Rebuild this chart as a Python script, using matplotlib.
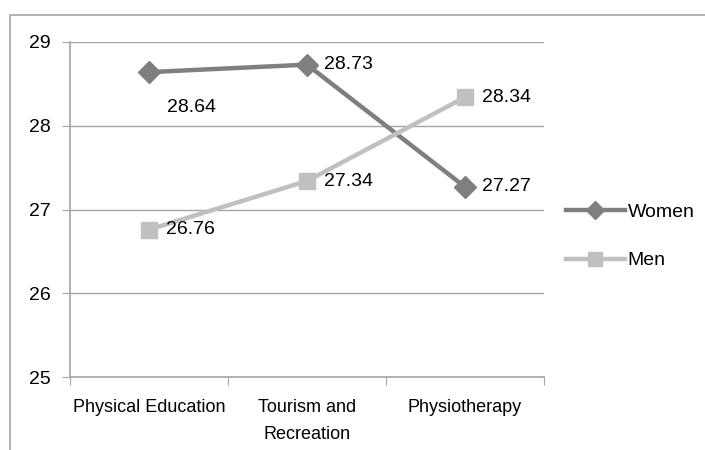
import matplotlib
matplotlib.use('Agg')
import matplotlib.pyplot as plt
from matplotlib.patches import Rectangle

# data
categories = ['Physical Education', 'Tourism and\nRecreation', 'Physiotherapy']
women = [28.64, 28.73, 27.27]
men = [26.76, 27.34, 28.34]
yticks = [25, 26, 27, 28, 29]

plt.rcParams['font.family'] = ['Liberation Sans Narrow', 'Liberation Sans', 'DejaVu Sans']

fig = plt.figure(figsize=(7.05, 4.5), dpi=100)
ax = fig.add_axes([70 / 705, 1 - 377 / 450, 474 / 705, 335 / 450])

# outer chart border
fig.patches.append(Rectangle((10 / 705, -0.1), 1.2, 0.1 + (1 - 15 / 450),
                             transform=fig.transFigure, fill=False,
                             edgecolor='#a6a6a6', linewidth=1.2))

x = [0.5, 1.5, 2.5]
ax.plot(x, women, color='#7f7f7f', linewidth=3.2, marker='D', markersize=11,
        label='Women', zorder=3)
ax.plot(x, men, color='#c0c0c0', linewidth=3.2, marker='s', markersize=11.5,
        label='Men', zorder=3)

# data labels
fs = 14
ax.annotate(f'{women[0]:.2f}', (x[0], women[0]), xytext=(13, -25.5),
            textcoords='offset points', fontsize=fs, va='center', ha='left')
for i in (1, 2):
    ax.annotate(f'{women[i]:.2f}', (x[i], women[i]), xytext=(12.5, 0),
                textcoords='offset points', fontsize=fs, va='center', ha='left')
for i in range(3):
    ax.annotate(f'{men[i]:.2f}', (x[i], men[i]), xytext=(12.5, 0),
                textcoords='offset points', fontsize=fs, va='center', ha='left')

ax.set_xlim(0, 3)
ax.set_ylim(25, 29)
ax.set_yticks(yticks)
ax.set_xticks([0, 1, 2, 3])
ax.set_xticklabels([])
ax.set_xticks(x, minor=True)
ax.set_xticklabels(categories, minor=True, linespacing=1.75)
ax.tick_params(axis='x', which='minor', length=0, pad=16, labelsize=13)
ax.tick_params(axis='x', which='major', length=6, color='#a6a6a6', direction='out')
ax.tick_params(axis='y', length=6, color='#a6a6a6', labelsize=14, pad=8)

ax.grid(axis='y', color='#a6a6a6', linewidth=1)
ax.set_axisbelow(True)
for s in ('top', 'right'):
    ax.spines[s].set_visible(False)
for s in ('left', 'bottom'):
    ax.spines[s].set_color('#a6a6a6')
    ax.spines[s].set_linewidth(1.2)

leg = ax.legend(loc='center left', bbox_to_anchor=(1.01, 0.42), frameon=False,
                fontsize=14, handlelength=3.0, handletextpad=0.15, labelspacing=1.6,
                markerscale=0.85)

fig.savefig('out.png', dpi=100)
